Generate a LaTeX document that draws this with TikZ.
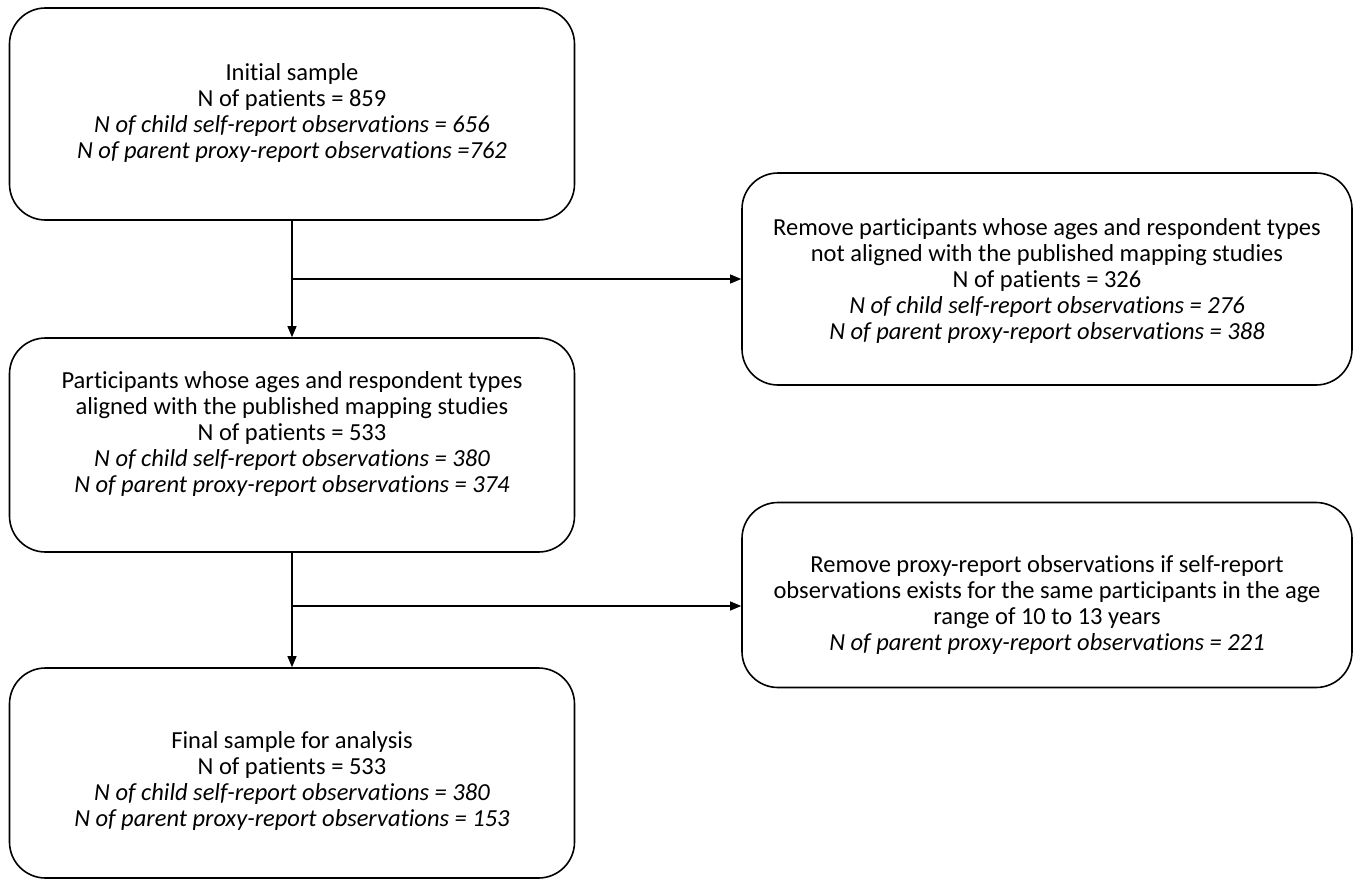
\documentclass[tikz,border=0pt]{standalone}
\usepackage{fontspec}
\setmainfont{Carlito}[Ligatures=NoCommon]
\usetikzlibrary{arrows.meta}
\begin{document}
\begin{tikzpicture}[x=1pt,y=-1pt,
  box/.style={draw=black, line width=1.6pt, rounded corners=36pt, inner sep=0pt},
  txt/.style={align=center, font=\fontsize{24.5}{26}\selectfont, inner sep=0pt},
  arr/.style={draw=black, line width=1.1pt, -{Triangle[length=11pt,width=9pt]}}]
\useasboundingbox (0,0) rectangle (1360,880);
% boxes
\node[box, minimum width=565pt, minimum height=212pt] (b1) at (292,114) {};
\node[box, minimum width=610pt, minimum height=212pt] (b2) at (1047,279) {};
\node[box, minimum width=565pt, minimum height=214pt] (b3) at (292,445) {};
\node[box, minimum width=610pt, minimum height=185pt] (b4) at (1047,595) {};
\node[box, minimum width=565pt, minimum height=210pt] (b5) at (292,773) {};
% texts
\node[txt] (t1) at ([yshift=1pt]b1.center)
  {Initial sample\\N of patients = 859\\\textit{N of child self-report observations = 656}\\\textit{N of parent proxy-report observations =762}};
\node[txt] (t2) at ([yshift=-2pt]b2.center)
  {Remove participants whose ages and respondent types\\not aligned with the published mapping studies\\N of patients = 326\\\textit{N of child self-report observations = 276}\\\textit{N of parent proxy-report observations = 388}};
\node[txt] (t3) at ([yshift=11pt]b3.center)
  {Participants whose ages and respondent types\\aligned with the published mapping studies\\N of patients = 533\\\textit{N of child self-report observations = 380}\\\textit{N of parent proxy-report observations = 374}};
\node[txt] (t4) at ([yshift=-10pt]b4.center)
  {Remove proxy-report observations if self-report\\observations exists for the same participants in the age\\range of 10 to 13 years\\\textit{N of parent proxy-report observations = 221}};
\node[txt] (t5) at ([yshift=-8pt]b5.center)
  {Final sample for analysis\\N of patients = 533\\\textit{N of child self-report observations = 380}\\\textit{N of parent proxy-report observations = 153}};
% connectors
\coordinate (j1) at (292,279);
\coordinate (j2) at (292,606);
\draw[arr] (b1.south) -- (b3.north);
\draw[arr] (j1) -- (j1 -| b2.west);
\draw[arr] (b3.south) -- (b5.north);
\draw[arr] (j2) -- (j2 -| b4.west);
\end{tikzpicture}
\end{document}
